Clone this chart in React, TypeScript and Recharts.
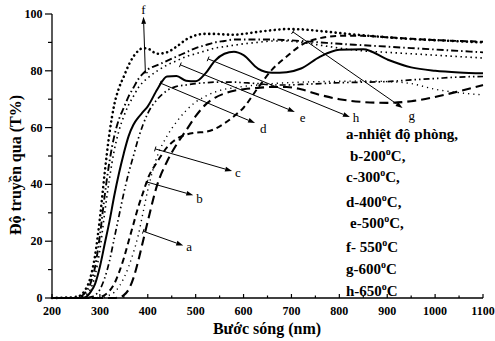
import React from 'react';
import { LineChart, Line, XAxis, YAxis, ReferenceLine } from 'recharts';

const wavelengths = [200, 250, 260, 270, 280, 290, 300, 310, 320, 330, 340, 350, 360, 370, 380, 390, 400, 420, 440, 460, 480, 500, 520, 540, 560, 580, 600, 630, 660, 690, 720, 760, 800, 850, 900, 950, 1000, 1050, 1100];

const dotsBig = [0, 0.3, 1, 3, 7, 15, 28, 44, 58, 68, 74, 78, 82, 85, 87, 88, 87.8, 86, 86.5, 88.5, 91, 92.5, 93, 93, 92.8, 92.7, 93, 93.7, 94.3, 94.7, 94.6, 94, 93.3, 92.5, 91.8, 91.2, 90.8, 90.4, 90];
const dashDot = [0, 0, 0.5, 2, 5, 11, 22, 36, 48, 57, 63, 67, 71, 74, 77, 79, 80.5, 82, 83.5, 85, 86.5, 88, 89, 90, 90.5, 91, 91, 91, 91, 90.8, 90.5, 90, 89.5, 89, 88.5, 88, 87.5, 87, 86.5];
const dotsSmall = [0, 0, 0.3, 1, 3, 8, 17, 30, 42, 52, 59, 64, 68, 71, 74, 76, 77.5, 80, 82, 83.5, 85, 86, 87, 88, 88.5, 89, 89.5, 90, 90.5, 90.5, 90, 89, 88, 87, 86.5, 86, 85.5, 85, 84.5];
const solid = [0, 0, 0, 0.3, 2, 5, 11, 19, 27, 36, 44, 51, 57, 61, 63.5, 65.5, 67.5, 73.5, 78, 78.2, 76.5, 76.3, 79, 83.5, 86, 86.7, 85.5, 80.8, 79.3, 79.5, 80.8, 85, 87.4, 87.6, 84, 81.2, 80, 79.4, 79.1];
const dashDotDot = [0, 0, 0, 0, 0.3, 1, 3, 7, 13, 21, 29, 37, 44, 50, 56, 61, 65, 70, 73, 74.5, 75, 75.5, 75.8, 76, 76, 76, 75.8, 75.5, 75, 75, 75.2, 75.5, 75.8, 76, 76.2, 76.8, 77.3, 77.8, 78];
const dashMed = [0, 0, 0, 0, 0, 0, 0.3, 1, 2.5, 5, 9, 14, 20, 26, 32, 37, 42, 48, 53, 56, 57.5, 58.2, 58.5, 59.5, 61.5, 64, 67, 74, 80.5, 85, 89, 91.5, 92.3, 92.3, 91.8, 91.3, 90.8, 90.5, 90.2];
const dotted = [0, 0, 0, 0, 0, 0, 0, 0.3, 1, 2, 4, 7, 11, 16, 22, 30, 38, 50, 57, 62, 66, 69, 71, 72.5, 73.5, 74, 74.5, 75, 75.5, 75.8, 76, 76.2, 76.3, 76.4, 76.2, 75.5, 73.5, 72.3, 71.5];
const dashLong = [0, 0, 0, 0, 0, 0, 0, 0, 0, 0, 0.2, 1, 3, 7, 13, 20, 27, 40, 48, 54, 59, 64, 68, 70.5, 72, 73, 73.5, 74, 74.3, 74.3, 73.5, 71.5, 70, 69, 68.7, 69.3, 70.8, 72.8, 75];

const xTicks = [200, 250, 300, 350, 400, 450, 500, 550, 600, 650, 700, 750, 800, 850, 900, 950, 1000, 1050, 1100];
const yTicks = [0, 10, 20, 30, 40, 50, 60, 70, 80, 90, 100];

// arrow annotations (data units): label, start, end, label offset
const arrowLabels = ['a', 'b', 'c', 'd', 'e', 'h', 'g', 'f'];
const arrowStarts = [[390.6, 23.5], [399, 40.8], [415.6, 52.5], [426, 75.7], [468, 82.1], [526, 84.2], [703, 93.7], [395, 79.3]];
const arrowEnds = [[474, 18.5], [495, 36.2], [576, 44.7], [624, 61.6], [707, 65.5], [822, 63.7], [932, 66.9], [391, 99]];
const labelOffsets = [[3, 6], [3, 8], [3, 6], [5, 10], [5, 10], [3, 5], [6, 12], [0, -3]];

const legendItems = [
  { key: 'a', text: 'a-nhiệt độ phòng,', temp: '', tail: '' },
  { key: 'b', text: 'b-200', temp: 'o', tail: 'C,' },
  { key: 'c', text: 'c-300', temp: 'o', tail: 'C,' },
  { key: 'd', text: 'd-400', temp: 'o', tail: 'C,' },
  { key: 'e', text: 'e-500', temp: 'o', tail: 'C,' },
  { key: 'f', text: 'f- 550', temp: 'o', tail: 'C' },
  { key: 'g', text: 'g-600', temp: 'o', tail: 'C' },
  { key: 'h', text: 'h-650', temp: 'o', tail: 'C' },
];
const legendTops = [134, 156, 177, 202, 223, 247, 269, 291];
const legendLefts = [346, 350, 346, 346, 350, 346, 346, 346];

const data = wavelengths.map((w, i) => ({
  w,
  dotsBig: dotsBig[i],
  dashDot: dashDot[i],
  dotsSmall: dotsSmall[i],
  solid: solid[i],
  dashDotDot: dashDotDot[i],
  dashMed: dashMed[i],
  dotted: dotted[i],
  dashLong: dashLong[i],
}));

const FONT = '"Liberation Serif", "Times New Roman", serif';

const XTick = (props: any) => {
  const { x, y, payload } = props;
  const major = payload.value % 100 === 0;
  return (
    <g>
      <line x1={x} y1={y} x2={x} y2={y - (major ? 4 : 2.5)} stroke="#000" strokeWidth={1.2} />
      {major && (
        <text x={x} y={y + 17} textAnchor="middle" fontFamily={FONT} fontWeight="bold" fontSize={12} fill="#000">
          {payload.value}
        </text>
      )}
    </g>
  );
};

const YTick = (props: any) => {
  const { x, y, payload } = props;
  const major = payload.value % 20 === 0;
  return (
    <g>
      <line x1={x - (major ? 7 : 4)} y1={y} x2={x} y2={y} stroke="#000" strokeWidth={1.2} />
      {major && (
        <text x={x - 9.5} y={y + 4} textAnchor="end" fontFamily={FONT} fontWeight="bold" fontSize={12} fill="#000">
          {payload.value}
        </text>
      )}
    </g>
  );
};

const makeArrow = (label: string, dx: number, dy: number) => (props: any) => {
  const { x1, y1, x2, y2 } = props;
  const ang = Math.atan2(y2 - y1, x2 - x1);
  const L = 7;
  const W = 2.4;
  const bx = x2 - L * Math.cos(ang);
  const by = y2 - L * Math.sin(ang);
  const px = -Math.sin(ang) * W;
  const py = Math.cos(ang) * W;
  const cx = -Math.sin(ang) * 2.5;
  const cy = Math.cos(ang) * 2.5;
  return (
    <g>
      <line x1={x1} y1={y1} x2={bx} y2={by} stroke="#000" strokeWidth={1} />
      <line x1={x1 - cx} y1={y1 - cy} x2={x1 + cx} y2={y1 + cy} stroke="#000" strokeWidth={1} />
      <polygon points={`${x2},${y2} ${bx + px},${by + py} ${bx - px},${by - py}`} fill="#000" />
      <text
        x={x2 + dx}
        y={y2 + dy}
        textAnchor={dy < 0 ? 'middle' : 'start'}
        fontFamily={FONT}
        fontSize={13}
        fill="#000"
      >
        {label}
      </text>
    </g>
  );
};

const seriesStyles = [
  { key: 'dotsBig', width: 2.6, dash: '0.1 4.6', cap: 'round' },
  { key: 'dashDot', width: 1.9, dash: '7 3 1.5 3', cap: 'butt' },
  { key: 'dotsSmall', width: 1.6, dash: '1.5 3.5', cap: 'butt' },
  { key: 'solid', width: 2, dash: undefined, cap: 'butt' },
  { key: 'dashDotDot', width: 1.7, dash: '6 3 1.5 3 1.5 3', cap: 'butt' },
  { key: 'dashMed', width: 2, dash: '6 4', cap: 'butt' },
  { key: 'dotted', width: 1.4, dash: '1.2 4', cap: 'butt' },
  { key: 'dashLong', width: 2.1, dash: '9 5', cap: 'butt' },
];

export default function App() {
  return (
    <div style={{ position: 'absolute', left: 0, top: 0, width: 495, height: 341, background: '#fff', fontFamily: FONT }}>
      <LineChart width={495} height={341} data={data} margin={{ top: 14, right: 12, bottom: 0, left: 0 }}>
        <XAxis
          dataKey="w"
          type="number"
          domain={[200, 1100]}
          ticks={xTicks}
          interval={0}
          height={43}
          tickSize={0}
          tickMargin={0}
          tickLine={false}
          tick={<XTick />}
          axisLine={{ stroke: '#000', strokeWidth: 1.3 }}
        />
        <YAxis
          type="number"
          domain={[0, 100]}
          ticks={yTicks}
          interval={0}
          width={52}
          tickSize={0}
          tickMargin={0}
          tickLine={false}
          tick={<YTick />}
          axisLine={{ stroke: '#000', strokeWidth: 1.3 }}
        />
        {seriesStyles.map((s) => (
          <Line
            key={s.key}
            dataKey={s.key}
            type="monotone"
            stroke="#000"
            strokeWidth={s.width}
            strokeDasharray={s.dash}
            strokeLinecap={s.cap as any}
            dot={false}
            activeDot={false}
            isAnimationActive={false}
          />
        ))}
        {arrowLabels.map((lab, i) => (
          <ReferenceLine
            key={'arr' + lab}
            segment={[
              { x: arrowStarts[i][0], y: arrowStarts[i][1] },
              { x: arrowEnds[i][0], y: arrowEnds[i][1] },
            ]}
            ifOverflow="visible"
            shape={makeArrow(lab, labelOffsets[i][0], labelOffsets[i][1])}
          />
        ))}
      </LineChart>
      {legendItems.map((it, i) => (
        <div
          key={it.key}
          style={{
            position: 'absolute',
            left: legendLefts[i],
            top: legendTops[i] - 8,
            fontFamily: FONT,
            fontWeight: 'bold',
            fontSize: 15,
            lineHeight: '16px',
            whiteSpace: 'nowrap',
            color: '#000',
          }}
        >
          {it.text}
          {it.temp && <span style={{ fontSize: 10, position: 'relative', top: -6 }}>{it.temp}</span>}
          {it.tail}
        </div>
      ))}
      <div
        style={{
          position: 'absolute',
          left: 267,
          top: 329,
          transform: 'translate(-50%, -50%)',
          fontFamily: FONT,
          fontWeight: 'bold',
          fontSize: 16,
          lineHeight: '18px',
          whiteSpace: 'nowrap',
        }}
      >
        Bước sóng (nm)
      </div>
      <div
        style={{
          position: 'absolute',
          left: 16,
          top: 165,
          transform: 'translate(-50%, -50%) rotate(-90deg)',
          fontFamily: FONT,
          fontWeight: 'bold',
          fontSize: 16,
          lineHeight: '18px',
          whiteSpace: 'nowrap',
        }}
      >
        Độ truyền qua (T%)
      </div>
    </div>
  );
}
